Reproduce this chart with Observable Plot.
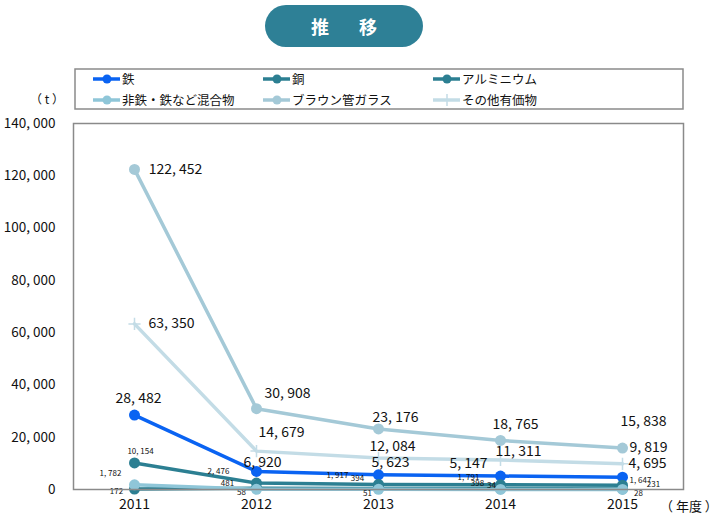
<!DOCTYPE html>
<html><head><meta charset="utf-8">
<script src="https://cdn.jsdelivr.net/npm/d3@7"></script>
<script src="https://cdn.jsdelivr.net/npm/@observablehq/plot@0.6"></script>
<style>
body{margin:0;background:#fff;font-family:"Noto Sans CJK JP",sans-serif;color:#111}
#wrap{position:relative;width:717px;height:515px;overflow:hidden}
#title{position:absolute;left:265px;top:5px;width:158px;height:42px;border-radius:21px;background:#2e8096;color:#fff;font-weight:bold;font-size:18px;line-height:42px;text-align:center;letter-spacing:6px;text-indent:6px}
#legend{position:absolute;left:0;top:0}
#unitY{position:absolute;left:30px;top:90px;font-size:12px;white-space:pre}
#unitX{position:absolute;left:660px;top:496px;font-size:13px;white-space:pre}
#chart{position:absolute;left:0;top:112px}
</style></head>
<body><div id="wrap">
<div id="title">推　移</div>
<svg id="legend" width="717" height="112"></svg>
<div id="unitY">（ t ）</div>
<div id="chart"></div>
<div id="unitX">（ 年度 ）</div>
</div>
<script>
// ---- data ----
const years = [2011, 2012, 2013, 2014, 2015];
const seriesNames = ["鉄", "銅", "アルミニウム", "非鉄・鉄など混合物", "ブラウン管ガラス", "その他有価物"];
const tetsu = [28482, 6920, 5623, 5147, 4695];
const dou = [10154, 2476, 1917, 1791, 1647];
const alumi = [172, 481, 394, 398, 231];
const mixed = [1782, 58, 51, 34, 28];
const crt = [122452, 30908, 23176, 18765, 15838];
const other = [63350, 14679, 12084, 11311, 9819];
const yTicks = [0, 20000, 40000, 60000, 80000, 100000, 120000, 140000];

// ---- styling (separate from data) ----
const colors = ["#0a63f2", "#2c7f92", "#2c7f92", "#8fc6d8", "#a4c9d7", "#c3dce6"];
const symbols = ["circle", "circle", "circle", "circle", "circle", "plus"];
const bigLabel = [true, false, false, false, true, true];
const labelOffsets = [
  [[4,-17],[6,-9],[12,-12],[-32,-13],[25,-14]],
  [[6,-12],[-38,-12],[-41,-9],[-32,-7],[18,-5]],
  [[-18,2],[-29,-5],[-21,-10],[-23,-5],[31,-4]],
  [[-24,-11],[-15,3],[-11,4],[-9,-4],[16,4]],
  [[41,0],[31,-15],[17,-11],[15,-16],[21,-27]],
  [[37,0],[25,-19],[14,-11],[18,-8],[26,-16]]
];

const valuesList = [tetsu, dou, alumi, mixed, crt, other];
const fmt = d => d3.format(",")(d).replace(/,/g, ", ");
const font = "Noto Sans CJK JP";

const rows = seriesNames.flatMap((s, i) => years.map((y, j) => ({series: s, si: i, year: y, value: valuesList[i][j], j})));

const marks = [];
seriesNames.forEach((s, i) => {
  const d = rows.filter(r => r.si === i);
  marks.push(Plot.line(d, {x: "year", y: "value", stroke: colors[i], strokeWidth: 3.5, curve: "linear"}));
  if (symbols[i] === "plus") {
    marks.push(Plot.dot(d, {x: "year", y: "value", symbol: "plus", r: 4, stroke: colors[i], strokeWidth: 1.5}));
  } else {
    marks.push(Plot.dot(d, {x: "year", y: "value", r: 5.5, fill: colors[i], stroke: "none"}));
  }
});
rows.forEach(r => {
  const [dx, dy] = labelOffsets[r.si][r.j];
  marks.push(Plot.text([r], {x: "year", y: "value", text: d => fmt(d.value), dx, dy,
    fontSize: bigLabel[r.si] ? 14 : 8, fill: "#111", textAnchor: "middle", fontFamily: font}));
});

const chart = Plot.plot({
  width: 717, height: 403,
  marginTop: 11, marginBottom: 26, marginLeft: 73, marginRight: 34,
  style: {fontFamily: font, color: "#111", background: "transparent"},
  x: {type: "point", domain: years, padding: 0.5},
  y: {domain: [0, 140000]},
  marks: [
    Plot.axisX({tickSize: 0, tickPadding: 10, fontSize: 14, label: null, tickFormat: d => String(d)}),
    Plot.axisY({ticks: yTicks, tickSize: 0, tickPadding: 18, fontSize: 13.5, label: null, tickFormat: fmt}),
    ...marks,
    Plot.frame({stroke: "#8a8a8a", strokeWidth: 1.5})
  ]
});
document.getElementById("chart").appendChild(chart);

// ---- legend ----
const lg = d3.select("#legend");
lg.append("rect").attr("x", 75).attr("y", 69).attr("width", 608).attr("height", 40)
  .attr("fill", "none").attr("stroke", "#8a8a8a").attr("stroke-width", 1.5);
const colX = [93, 263, 433];
const rowY = [79, 100];
seriesNames.forEach((s, i) => {
  const x0 = colX[i % 3], y0 = rowY[Math.floor(i / 3)];
  const g = lg.append("g");
  g.append("line").attr("x1", x0).attr("x2", x0 + 27).attr("y1", y0).attr("y2", y0)
    .attr("stroke", colors[i]).attr("stroke-width", 3.5);
  if (symbols[i] === "plus") {
    g.append("path").attr("d", `M${x0+14-6},${y0}h12M${x0+14},${y0-6}v12`).attr("stroke", colors[i]).attr("stroke-width", 1.5);
  } else {
    g.append("circle").attr("cx", x0 + 14).attr("cy", y0).attr("r", 4.5).attr("fill", colors[i]);
  }
  g.append("text").attr("x", x0 + 29).attr("y", y0).attr("dy", "0.36em")
    .attr("font-size", 12.5).attr("font-family", font).attr("fill", "#111").text(s);
});
</script>
</body></html>
